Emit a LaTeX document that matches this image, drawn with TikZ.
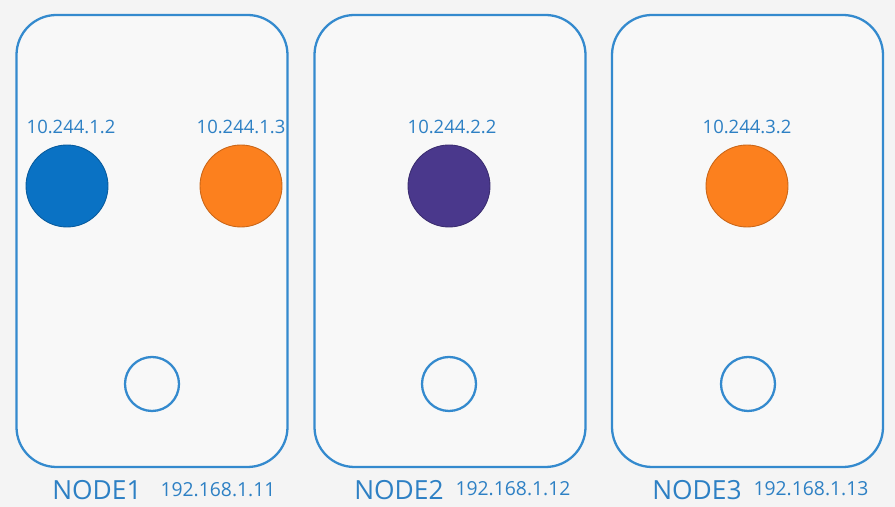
\documentclass[tikz,border=0pt]{standalone}
\usepackage{fontspec}
\setmainfont{Open Sans}
\definecolor{k8sline}{RGB}{52,138,206}
\definecolor{k8stext}{RGB}{45,128,196}
\definecolor{k8sbg}{RGB}{244,244,244}
\definecolor{podblue}{RGB}{10,114,196}
\definecolor{podorange}{RGB}{252,128,30}
\definecolor{podpurple}{RGB}{74,56,140}
\usetikzlibrary{positioning}

\begin{document}
\begin{tikzpicture}[
  hostbox/.style={draw=k8sline, line width=1.3pt, fill=k8sbg!60, rounded corners=0.8cm, minimum width=5.42cm, minimum height=9.04cm},
  pod/.style={circle, minimum size=1.64cm, inner sep=0pt, draw=#1!80!black, line width=0.5pt, fill=#1},
  bridge/.style={circle, minimum size=1.08cm, inner sep=0pt, draw=k8sline, line width=1.3pt},
  podip/.style={font=\fontsize{10.5}{12}\selectfont, text=k8stext},
  hostname/.style={font=\fontsize{15}{18}\selectfont, text=k8stext},
  hostip/.style={font=\fontsize{11}{13}\selectfont, text=k8stext}
]
  \fill[k8sbg] (0,0) rectangle (17.9,10.14);
  \useasboundingbox (0,0) rectangle (17.9,10.14);

  % Node 1
  \node[hostbox] (node1) at (3.04,5.32) {};
  \node[pod=podblue] (pod11) at (1.34,6.42) {};
  \node[pod=podorange] (pod12) at (4.82,6.42) {};
  \node[podip] at (1.42,7.60) {10.244.1.2};
  \node[podip] at (4.82,7.60) {10.244.1.3};
  \node[bridge] (br1) at (3.04,2.46) {};
  \node[hostname] (name1) at (1.94,0.34) {NODE1};
  \node[hostip] (ip1) at (4.36,0.34) {192.168.1.11};

  % Node 2
  \node[hostbox] (node2) at (9.00,5.32) {};
  \node[pod=podpurple] (pod21) at (8.98,6.42) {};
  \node[podip] at (9.04,7.60) {10.244.2.2};
  \node[bridge] (br2) at (8.98,2.46) {};
  \node[hostname] (name2) at (7.98,0.34) {NODE2};
  \node[hostip] (ip2) at (10.26,0.36) {192.168.1.12};

  % Node 3
  \node[hostbox] (node3) at (14.95,5.32) {};
  \node[pod=podorange] (pod31) at (14.94,6.42) {};
  \node[podip] at (14.94,7.60) {10.244.3.2};
  \node[bridge] (br3) at (14.96,2.46) {};
  \node[hostname] (name3) at (13.94,0.34) {NODE3};
  \node[hostip] (ip3) at (16.22,0.36) {192.168.1.13};
\end{tikzpicture}
\end{document}
